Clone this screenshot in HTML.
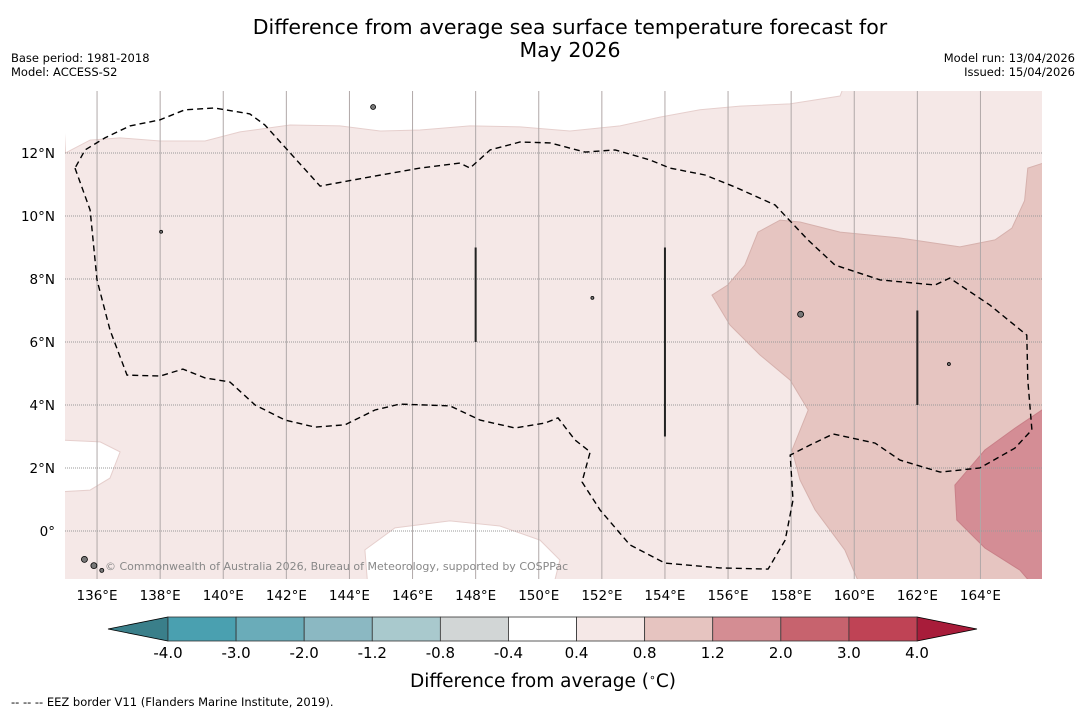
<!DOCTYPE html>
<html><head><meta charset="utf-8"><style>
body{margin:0;background:#fff;font-family:"DejaVu Sans","Liberation Sans",sans-serif;}
svg text{font-family:"DejaVu Sans","Liberation Sans",sans-serif;}
</style></head><body>
<svg id="c" width="1085" height="713" xmlns="http://www.w3.org/2000/svg">
<rect width="1085" height="713" fill="#fff"/>
<text x="570" y="34" font-size="20.5" text-anchor="middle">Difference from average sea surface temperature forecast for</text>
<text x="570" y="57" font-size="20.5" text-anchor="middle">May 2026</text>
<text x="11" y="62" font-size="11.5">Base period: 1981-2018</text>
<text x="11" y="76" font-size="11.5">Model: ACCESS-S2</text>
<text x="1075" y="62" font-size="11.5" text-anchor="end">Model run: 13/04/2026</text>
<text x="1075" y="76" font-size="11.5" text-anchor="end">Issued: 15/04/2026</text>
<defs><clipPath id="mc"><rect x="65" y="91" width="977" height="488"/></clipPath></defs>
<g id="map" clip-path="url(#mc)"></g>
<g id="axes"></g>
<g id="cbar"></g>
<text x="543" y="687" font-size="18.5" text-anchor="middle">Difference from average (<tspan font-size="11" dy="-6">∘</tspan><tspan dy="6">C)</tspan></text>
<text x="11" y="706" font-size="11.5">--  --  -- EEZ border V11 (Flanders Marine Institute, 2019).</text>
</svg>
<script>
const lonTicks=[136,138,140,142,144,146,148,150,152,154,156,158,160,162,164];
const latTicks=[0,2,4,6,8,10,12];
const cbBounds=[-4.0,-3.0,-2.0,-1.2,-0.8,-0.4,0.4,0.8,1.2,2.0,3.0,4.0];
const cbColors=["#4aa0b0","#6aacb9","#8bb8c2","#a9c9cd","#d2d6d6","#ffffff","#f5e8e7","#e6c4c0","#d48d93","#c7636e","#bf4355"];
const bgTop=[[135,12.0],[135.78,12.41],[136.73,12.48],[138.0,12.38],[139.42,12.38],[140.53,12.67],[142.12,12.89],[143.7,12.86],[144.97,12.7],[146.24,12.73],[147.82,12.86],[149.41,12.83],[150.99,12.7],[152.58,12.86],[153.84,13.14],[155.11,13.37],[156.38,13.49],[157.96,13.56],[159.55,13.81],[159.7,14.2]];
const zone12=[[155.49,7.49],[155.99,7.81],[156.53,8.44],[156.95,9.49],[157.65,9.87],[158.28,9.81],[159.55,9.49],[161.45,9.3],[163.35,9.02],[164.46,9.24],[165.0,9.62],[165.4,10.49],[165.5,11.52],[166.2,11.75],[166.2,-2],[160.3,-2],[159.7,-0.6],[158.76,0.67],[158.28,1.62],[158.03,2.57],[158.54,3.84],[157.97,4.79],[157.01,5.59],[156.06,6.54]];
const zone20=[[166.2,3.9],[165.95,3.84],[165.1,3.27],[164.14,2.57],[163.19,1.46],[163.25,0.35],[164.14,-0.54],[165.25,-1.24],[165.9,-2],[166.2,-2]];
const whiteLeft=[[134.8,2.89],[136.1,2.83],[136.73,2.51],[136.41,1.68],[135.78,1.3],[134.8,1.24]];
const whiteBottom=[[144.49,-0.6],[145.44,0.1],[147.18,0.32],[148.77,0.16],[150.04,-0.29],[150.67,-0.92],[150.4,-2],[144.6,-2]];
const eez=[[135.3,11.52],[135.78,10.19],[136.0,7.97],[136.41,6.38],[136.95,4.95],[138.0,4.92],[138.72,5.14],[139.42,4.86],[140.21,4.73],[141.01,4.0],[141.96,3.52],[142.91,3.3],[143.86,3.37],[144.81,3.84],[145.6,4.03],[147.19,3.97],[148.14,3.52],[149.25,3.27],[150.2,3.43],[150.61,3.59],[151.15,2.89],[151.63,2.51],[151.37,1.56],[151.94,0.67],[152.89,-0.44],[154.0,-1.02],[155.74,-1.17],[157.27,-1.21],[157.81,-0.29],[158.06,0.98],[157.97,2.41],[158.6,2.73],[159.33,3.08],[160.66,2.79],[161.45,2.25],[162.72,1.87],[163.98,2.0],[165.09,2.63],[165.63,3.21],[165.5,4.79],[165.47,6.22],[164.3,7.17],[163.03,8.03],[162.56,7.81],[160.82,7.97],[159.39,8.44],[158.53,9.24],[157.49,10.35],[156.22,10.92],[155.27,11.3],[154.16,11.52],[153.52,11.78],[152.42,12.1],[151.47,12.03],[150.36,12.32],[149.41,12.35],[148.46,12.1],[147.82,11.52],[147.5,11.68],[146.24,11.52],[144.65,11.24],[143.07,10.95],[141.32,12.89],[140.84,13.24],[139.73,13.43],[138.78,13.37],[137.99,13.05],[137.04,12.86],[136.25,12.48],[135.62,12.1],[135.3,11.52]];
const bars=[[148,6,9],[154,3,9],[162,4,7]];
const islands=[[144.75,13.46,2.5],[158.3,6.88,3],[138.03,9.5,1.5],[151.7,7.4,1.5],[163.0,5.3,1.5],[135.6,-0.9,3],[135.9,-1.1,3],[136.15,-1.25,2]];
const NS="http://www.w3.org/2000/svg";
const X=lon=>65.5+(lon-135)*31.55, Y=lat=>531-lat*31.5;
function el(t,a,p){const e=document.createElementNS(NS,t);for(const k in a)e.setAttribute(k,a[k]);p.appendChild(e);return e;}
const pts=a=>a.map(p=>X(p[0]).toFixed(1)+","+Y(p[1]).toFixed(1)).join(" ");
const map=document.getElementById("map"),ax=document.getElementById("axes"),cb=document.getElementById("cbar");
let e=el("rect",{x:65,y:91,width:977,height:488,fill:"#f5e8e7"},map);


e=el("polygon",{points:pts([[134.8,16],...bgTop,[167,16]]),fill:"#fff",stroke:"#e6cfcd","stroke-width":1},map);


e=el("polygon",{points:pts(zone12),fill:"#e6c5c1",stroke:"#d6b1ad","stroke-width":1},map);


e=el("polygon",{points:pts(zone20),fill:"#d48d95",stroke:"#c98088","stroke-width":1},map);


e=el("polygon",{points:pts(whiteLeft),fill:"#fff",stroke:"#e6cfcd"},map);


e=el("polygon",{points:pts(whiteBottom),fill:"#fff",stroke:"#e6cfcd"},map);


lonTicks.forEach(l=>{
 const g=el("line",{x1:X(l),x2:X(l),y1:91,y2:579,stroke:"#b0a8a8","stroke-width":1},map);
 
 
 const t=el("text",{x:X(l),y:600,"font-size":13.5,"text-anchor":"middle"},ax);t.textContent=l+"°E";
 
 
});
latTicks.forEach(l=>{
 const g=el("line",{x1:65,x2:1042,y1:Y(l),y2:Y(l),stroke:"#999","stroke-width":1,"stroke-dasharray":"1,1"},map);
 
 
 const t=el("text",{x:55,y:Y(l)+5,"font-size":13.5,"text-anchor":"end"},ax);t.textContent=l==0?"0°":l+"°N";
 
 
});
e=el("polyline",{points:pts(eez),fill:"none",stroke:"#000","stroke-width":1.4,"stroke-dasharray":"6,4"},map);


bars.forEach(b=>{
 const l=el("line",{x1:X(b[0]),x2:X(b[0]),y1:Y(b[2]),y2:Y(b[1]),stroke:"#222","stroke-width":2},map);
 
 
});
islands.forEach(i=>{
 const c=el("circle",{cx:X(i[0]),cy:Y(i[1]),r:i[2],fill:"#777",stroke:"#000","stroke-width":0.8},map);
 
 
});
e=el("text",{x:105,y:570,"font-size":11,fill:"#888"},map);e.textContent="© Commonwealth of Australia 2026, Bureau of Meteorology, supported by COSPPac";


const cx0=168,cx1=917,cy=617,ch=24,n=cbColors.length,sw=(cx1-cx0)/n;
e=el("polygon",{points:`108,${cy+ch/2} ${cx0},${cy} ${cx0},${cy+ch}`,fill:"#3a7f8a",stroke:"#000","stroke-width":0.8},cb);


e=el("polygon",{points:`977,${cy+ch/2} ${cx1},${cy} ${cx1},${cy+ch}`,fill:"#a81c3a",stroke:"#000","stroke-width":0.8},cb);


cbColors.forEach((c,i)=>{
 const r=el("rect",{x:cx0+i*sw,y:cy,width:sw,height:ch,fill:c,stroke:"#333","stroke-width":0.8},cb);
 
 
});
cbBounds.forEach((v,i)=>{
 const t=el("text",{x:cx0+i*sw,y:658,"font-size":15,"text-anchor":"middle"},cb);t.textContent=v.toFixed(1);
 
 
});
</script>
</body></html>
